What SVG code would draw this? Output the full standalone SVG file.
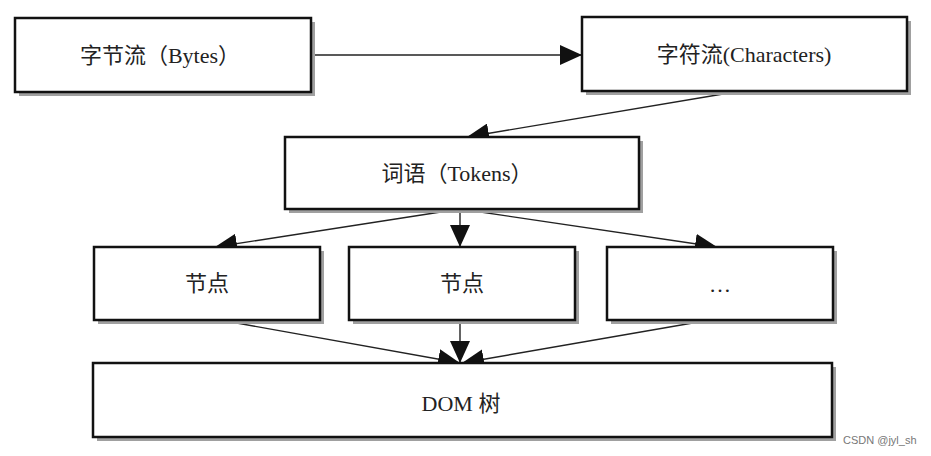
<svg xmlns="http://www.w3.org/2000/svg" width="931" height="456" viewBox="0 0 931 456">
<style>
.box{fill:#fff;stroke:#111;stroke-width:2.5}
.sh{fill:#a0a0a0}
.t{font-family:"Liberation Serif","Noto Sans CJK SC",serif;font-size:22px;fill:#222;text-anchor:middle}
.c{stroke:#222;stroke-width:1.4;fill:none;marker-end:url(#ah)}
</style>
<defs>
<marker id="ah" viewBox="0 0 22 20" refX="22" refY="10" markerWidth="22" markerHeight="20" markerUnits="userSpaceOnUse" orient="auto">
<path d="M0,0 L22,10 L0,20 Z" fill="#111"/>
</marker>
</defs>
<rect width="931" height="456" fill="#fff"/>
<g id="connectors">
<line class="c" x1="311" y1="55" x2="582" y2="55"/>
<line class="c" x1="735" y1="92" x2="467" y2="137"/>
<line class="c" x1="460" y1="209" x2="215" y2="247"/>
<line class="c" x1="460" y1="209" x2="460" y2="247"/>
<line class="c" x1="460" y1="209" x2="717" y2="247"/>
<line class="c" x1="220" y1="320" x2="460" y2="363"/>
<line class="c" x1="460" y1="320" x2="460" y2="363"/>
<line class="c" x1="710" y1="320" x2="462" y2="363"/>
</g>
<g id="bytes">
<rect class="sh" x="19" y="22" width="296" height="74"/>
<rect class="box" x="15" y="18" width="296" height="74"/>
<text class="t" x="160" y="63">字节流（Bytes）</text>
</g>
<g id="characters">
<rect class="sh" x="586" y="21" width="325" height="74"/>
<rect class="box" x="582" y="17" width="325" height="74"/>
<text class="t" x="744" y="62">字符流(Characters)</text>
</g>
<g id="tokens">
<rect class="sh" x="289" y="141" width="354" height="72"/>
<rect class="box" x="285" y="137" width="354" height="72"/>
<text class="t" x="457" y="181">词语（Tokens）</text>
</g>
<g id="node1">
<rect class="sh" x="98" y="251" width="226" height="73"/>
<rect class="box" x="94" y="247" width="226" height="73"/>
<text class="t" x="207" y="291">节点</text>
</g>
<g id="node2">
<rect class="sh" x="353" y="251" width="226" height="73"/>
<rect class="box" x="349" y="247" width="226" height="73"/>
<text class="t" x="462" y="291">节点</text>
</g>
<g id="node3">
<rect class="sh" x="611" y="251" width="226" height="73"/>
<rect class="box" x="607" y="247" width="226" height="73"/>
<text class="t" x="720" y="292">…</text>
</g>
<g id="dom">
<rect class="sh" x="97" y="367" width="739" height="74"/>
<rect class="box" x="93" y="363" width="739" height="74"/>
<text class="t" x="461" y="411">DOM 树</text>
</g>
<text x="843" y="444" font-family="Liberation Sans,Arial,sans-serif" font-size="11" fill="#777">CSDN @jyl_sh</text>
</svg>
